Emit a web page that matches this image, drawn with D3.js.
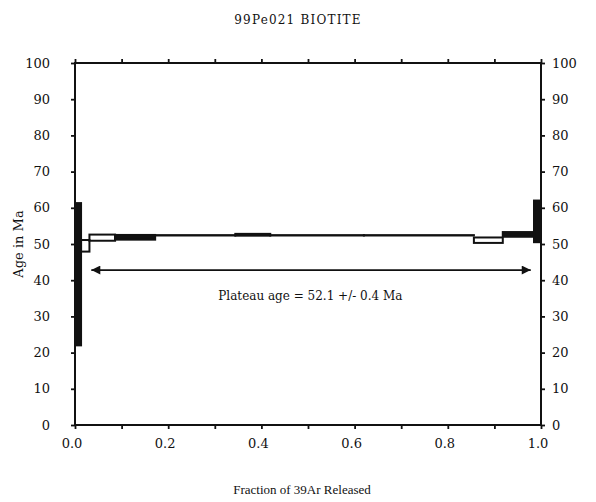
<!DOCTYPE html>
<html>
<head>
<meta charset="utf-8">
<script src="https://cdnjs.cloudflare.com/ajax/libs/d3/7.8.5/d3.min.js"></script>
<style>
  body { margin: 0; background: #fff; }
  text { font-family: "DejaVu Serif", "Liberation Serif", serif; fill: #111; }
</style>
</head>
<body>
<script>
/*---------------------------
 DATA
---------------------------*/
// cumulative fraction of 39Ar at the start / end of each step
var stepStart = [0.000, 0.013, 0.031, 0.086, 0.172, 0.344, 0.419, 0.620, 0.856, 0.918, 0.985];
var stepEnd   = [0.013, 0.031, 0.086, 0.172, 0.344, 0.419, 0.620, 0.856, 0.918, 0.985, 1.000];
// apparent age box, low and high (Ma)
var ageLow    = [22.0, 47.9, 50.9, 51.2, 52.35, 52.3, 52.35, 52.35, 50.3, 52.0, 50.5];
var ageHigh   = [61.3, 51.1, 52.6, 52.5, 52.45, 52.8, 52.45, 52.45, 51.8, 53.3, 62.0];

var xTicks = [0, 0.1, 0.2, 0.3, 0.4, 0.5, 0.6, 0.7, 0.8, 0.9, 1.0];
var xLabels = [0, 0.2, 0.4, 0.6, 0.8, 1.0];
var yTicks = [0, 10, 20, 30, 40, 50, 60, 70, 80, 90, 100];

var plateauFrom = 0.035, plateauTo = 0.978, plateauArrowAge = 42.8;
var plateauText = "Plateau age = 52.1 +/- 0.4 Ma";

/*---------------------------
 SETUP
---------------------------*/
var width = 596, height = 502;
var margin = { top: 63, right: 55, bottom: 77, left: 75 };
var w = width - margin.left - margin.right;
var h = height - margin.top - margin.bottom;

var svg = d3.select("body")
            .append("svg")
            .attr("width", width)
            .attr("height", height);

var g = svg.append("g")
           .attr("transform", "translate(" + margin.left + "," + margin.top + ")");

var x = d3.scaleLinear().domain([0, 1]).range([0, w]);
var y = d3.scaleLinear().domain([0, 100]).range([h, 0]);

var defs = svg.append("defs");
defs.append("clipPath")
    .attr("id", "plot")
    .append("rect")
    .attr("width", w).attr("height", h);

/*---------------------------
 AXES (ticks on all four sides, pointing out)
---------------------------*/
function tickOnly(axis) {
  return axis.tickSizeOuter(0).tickSizeInner(4).tickFormat("");
}

g.append("g").attr("class", "axis")
 .attr("transform", "translate(0," + h + ")")
 .call(tickOnly(d3.axisBottom(x).tickValues(xTicks)));
g.append("g").attr("class", "axis")
 .call(tickOnly(d3.axisTop(x).tickValues(xTicks)));
g.append("g").attr("class", "axis")
 .call(tickOnly(d3.axisLeft(y).tickValues(yTicks)));
g.append("g").attr("class", "axis")
 .attr("transform", "translate(" + w + ",0)")
 .call(tickOnly(d3.axisRight(y).tickValues(yTicks)));

g.selectAll(".axis path").remove();
g.selectAll(".axis line").attr("stroke", "#111").attr("stroke-width", 1.8);

// frame
g.append("rect")
 .attr("width", w).attr("height", h)
 .attr("fill", "none")
 .attr("stroke", "#111")
 .attr("stroke-width", 2);

// tick labels
g.selectAll(".xlab")
 .data(xLabels)
 .enter()
 .append("text")
 .attr("class", "xlab")
 .attr("x", function(d) { return x(d) - 3; })
 .attr("y", h + 23)
 .attr("text-anchor", "middle")
 .style("font-size", "13px")
 .text(function(d) { return d3.format(".1f")(d); });

g.selectAll(".ylabL")
 .data(yTicks)
 .enter()
 .append("text")
 .attr("class", "ylabL")
 .attr("x", -25)
 .attr("y", function(d) { return y(d); })
 .attr("dy", "0.35em")
 .attr("text-anchor", "end")
 .style("font-size", "13px")
 .text(function(d) { return d; });

g.selectAll(".ylabR")
 .data(yTicks)
 .enter()
 .append("text")
 .attr("class", "ylabR")
 .attr("x", w + 11)
 .attr("y", function(d) { return y(d); })
 .attr("dy", "0.35em")
 .attr("text-anchor", "start")
 .style("font-size", "13px")
 .text(function(d) { return d; });

/*---------------------------
 AGE SPECTRUM BOXES
---------------------------*/
var steps = stepStart.map(function(s, i) {
  return { x0: s, x1: stepEnd[i], lo: ageLow[i], hi: ageHigh[i] };
});

g.append("g")
 .attr("clip-path", "url(#plot)")
 .selectAll("rect")
 .data(steps)
 .enter()
 .append("rect")
 .attr("x", function(d) { return x(d.x0); })
 .attr("width", function(d) { return x(d.x1) - x(d.x0); })
 .attr("y", function(d) { return y(d.hi); })
 .attr("height", function(d) { return y(d.lo) - y(d.hi); })
 .attr("stroke", "#111")
 .attr("stroke-width", 2)
 // very thin or very narrow boxes print as solid bars
 .attr("fill", function(d) {
   var bw = x(d.x1) - x(d.x0), bh = y(d.lo) - y(d.hi);
   return (bh < 5 || bw < 8) ? "#111" : "none";
 });

/*---------------------------
 PLATEAU ARROW + LABEL
---------------------------*/
["start", "end"].forEach(function(k) {
  defs.append("marker")
      .attr("id", "arrow-" + k)
      .attr("viewBox", "0 0 10 10")
      .attr("refX", k === "end" ? 10 : 0)
      .attr("refY", 5)
      .attr("markerWidth", 12)
      .attr("markerHeight", 9)
      .attr("markerUnits", "userSpaceOnUse")
      .attr("orient", "auto")
      .append("path")
      .attr("d", k === "end" ? "M0,0L10,5L0,10Z" : "M10,0L0,5L10,10Z")
      .attr("fill", "#111");
});

g.append("line")
 .attr("x1", x(plateauFrom))
 .attr("x2", x(plateauTo))
 .attr("y1", y(plateauArrowAge))
 .attr("y2", y(plateauArrowAge))
 .attr("stroke", "#111")
 .attr("stroke-width", 1.8)
 .attr("marker-start", "url(#arrow-start)")
 .attr("marker-end", "url(#arrow-end)");

g.append("text")
 .attr("x", x(0.505))
 .attr("y", y(plateauArrowAge) + 30)
 .attr("text-anchor", "middle")
 .style("font-size", "12px")
 .text(plateauText);

/*---------------------------
 TITLES
---------------------------*/
svg.append("text")
   .attr("x", 298)
   .attr("y", 24)
   .attr("text-anchor", "middle")
   .style("font-size", "12px")
   .style("letter-spacing", "1.2px")
   .text("99Pe021 BIOTITE");

svg.append("text")
   .attr("x", 302)
   .attr("y", 494)
   .attr("text-anchor", "middle")
   .style("font-family", "'Liberation Serif', serif")
   .style("font-size", "13px")
   .text("Fraction of 39Ar Released");

svg.append("text")
   .attr("transform", "translate(23,244) rotate(-90)")
   .attr("text-anchor", "middle")
   .style("font-size", "13px")
   .text("Age in Ma");
</script>
</body>
</html>
